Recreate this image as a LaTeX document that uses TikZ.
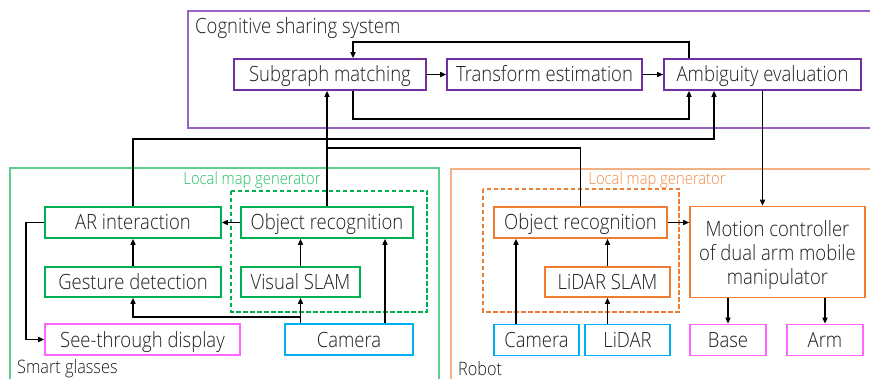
\documentclass[tikz,border=0pt]{standalone}
\usepackage{fontspec}
\setmainfont[FakeStretch=0.88,UprightFont={* Light}]{Open Sans}
\usetikzlibrary{arrows.meta}
\definecolor{cpur}{HTML}{7030A0}
\definecolor{cpurL}{HTML}{9A62C8}
\definecolor{cgrn}{HTML}{00B050}
\definecolor{cgrnL}{HTML}{5CCF8A}
\definecolor{cgrnT}{HTML}{22C064}
\definecolor{corg}{HTML}{ED7D31}
\definecolor{corgL}{HTML}{F4B183}
\definecolor{corgT}{HTML}{F08C48}
\definecolor{ccya}{HTML}{00B0F0}
\definecolor{cmag}{HTML}{FF66FF}
\definecolor{ctxt}{HTML}{1E1E1E}
\newcommand{\mainsz}{\fontsize{21}{24}\selectfont}
\newcommand{\smallsz}{\fontsize{16.8}{19}\selectfont}
\newcommand{\labsz}{\fontsize{18.5}{21}\selectfont}
\tikzset{
  bx/.style={draw, rectangle, line width=1.6pt, inner sep=0pt, fill=white,
    text=ctxt, font=\mainsz, align=center, text height=15pt, text depth=0pt},
  pbox/.style={bx, draw=cpur},
  gbox/.style={bx, draw=cgrn},
  obox/.style={bx, draw=corg},
  cbox/.style={bx, draw=ccya},
  mbox/.style={bx, draw=cmag},
  arr/.style={line width=1.4pt, draw=black, -{Triangle[length=6pt,width=5pt]}},
  ln/.style={line width=1.4pt, draw=black},
  dbox/.style={line width=1.5pt, dash pattern=on 4.5pt off 2.5pt},
}
\begin{document}
\begin{tikzpicture}[x=1pt,y=-1pt]
\clip (0,0) rectangle (870,379);
\fill[white] (0,0) rectangle (870,379);
% outer containers
\draw[cpurL, line width=1.3pt] (188,11) rectangle (890,128);
\node[anchor=west, text=ctxt, font=\mainsz, inner sep=0pt] (tcog) at (195,28) {Cognitive sharing system};
\draw[cgrnL, line width=1.3pt] (10,168) rectangle (439,395);
\node[anchor=west, text=ctxt, font=\labsz, inner sep=0pt] (tsg) at (17,369) {Smart glasses};
\node[text=cgrnT, font=\smallsz, inner sep=0pt] (tlmg) at (252,180) {Local map generator};
\draw[cgrn, dbox] (231,191) rectangle (427,312);
\draw[corgL, line width=1.3pt] (451,169) rectangle (890,395);
\node[anchor=west, text=ctxt, font=\labsz, inner sep=0pt] (trob) at (458,369) {Robot};
\node[text=corgT, font=\smallsz, inner sep=0pt] (tlmr) at (657,180) {Local map generator};
\draw[corg, dbox] (483,189) rectangle (679,312);

% cognitive sharing system
\node[pbox, minimum width=192pt, minimum height=31pt] (sub) at (330,74.5) {Subgraph matching};
\node[pbox, minimum width=195pt, minimum height=31pt] (tra) at (544.5,74.5) {Transform estimation};
\node[pbox, minimum width=197pt, minimum height=31pt] (amb) at (762.5,74.5) {Ambiguity evaluation};

% smart glasses
\node[gbox, minimum width=176pt, minimum height=31pt] (ar) at (133,222.5) {AR interaction};
\node[gbox, minimum width=172pt, minimum height=31pt] (orG) at (327,222.5) {Object recognition};
\node[gbox, minimum width=176pt, minimum height=30pt] (ges) at (133,282) {Gesture detection};
\node[gbox, minimum width=119pt, minimum height=30pt] (vs) at (300.5,282) {Visual SLAM};
\node[mbox, minimum width=195pt, minimum height=31pt] (std) at (142.5,339.5) {See-through display};
\node[cbox, minimum width=128pt, minimum height=31pt] (camG) at (349,339.5) {Camera};

% robot
\node[obox, minimum width=173pt, minimum height=31pt] (orR) at (580.5,222.5) {Object recognition};
\node[obox, minimum width=125pt, minimum height=30pt] (ls) at (607.5,282) {LiDAR SLAM};
\node[cbox, minimum width=85pt, minimum height=31pt] (camR) at (536.5,340) {Camera};
\node[cbox, minimum width=85pt, minimum height=31pt] (lid) at (627.5,340) {LiDAR};
\node[obox, minimum width=175pt, minimum height=91pt] (mc) at (777.5,252) {};
\node[text=ctxt, font=\mainsz, align=center, inner sep=0pt] (mct) at (777.5,255) {Motion controller\\of dual arm mobile\\manipulator};
\node[mbox, minimum width=76pt, minimum height=31pt] (base) at (728,340) {Base};
\node[mbox, minimum width=76pt, minimum height=31pt] (arm) at (825,340) {Arm};

% junction coordinates
\coordinate (fbT) at (353,42);
\coordinate (fbB) at (353,119);
\coordinate (j1) at (327,148);
\coordinate (j2) at (714,139);
\coordinate (j3) at (301,317);
\coordinate (j4) at (26,339.5);

% cognitive connectors
\draw[arr] (sub.east) -- (tra.west);
\draw[arr] (tra.east) -- (amb.west);
\draw[arr] ([xshift=-73.5pt]amb.north) |- (fbT) -- (fbT |- sub.north);
\draw[arr] (fbB |- sub.south) -- (fbB) -| ([xshift=-73.5pt]amb.south);
\draw[arr] (orG.north) -- (orG.north |- sub.south);
\draw[ln] (orR.north) |- (j1);
\draw[arr] (ar.north) |- (j2) -- (j2 |- amb.south);
\draw[arr] (amb.south) -- (amb.south |- mc.north);

% smart glasses connectors
\draw[arr] (orG.west) -- (ar.east);
\draw[arr] (ges.north) -- (ar.south);
\draw[arr] (vs.north) -- (vs.north |- orG.south);
\draw[arr] (camG.north -| vs.south) -- (vs.south);
\draw[arr] (j3) -| (ges.south);
\draw[arr] ([xshift=36pt]camG.north) -- ([xshift=36pt]camG.north |- orG.south);
\draw[arr] (ar.west) -| (j4) -- (std.west);

% robot connectors
\draw[arr] ([xshift=-20.5pt]camR.north) -- ([xshift=-20.5pt]camR.north |- orR.south);
\draw[arr] (lid.north -| ls.south) -- (ls.south);
\draw[arr] (ls.north) -- (ls.north |- orR.south);
\draw[arr] (orR.east) -- (orR.east -| mc.west);
\draw[arr] (mc.south -| base.north) -- (base.north);
\draw[arr] (mc.south -| arm.north) -- (arm.north);
\end{tikzpicture}
\end{document}
